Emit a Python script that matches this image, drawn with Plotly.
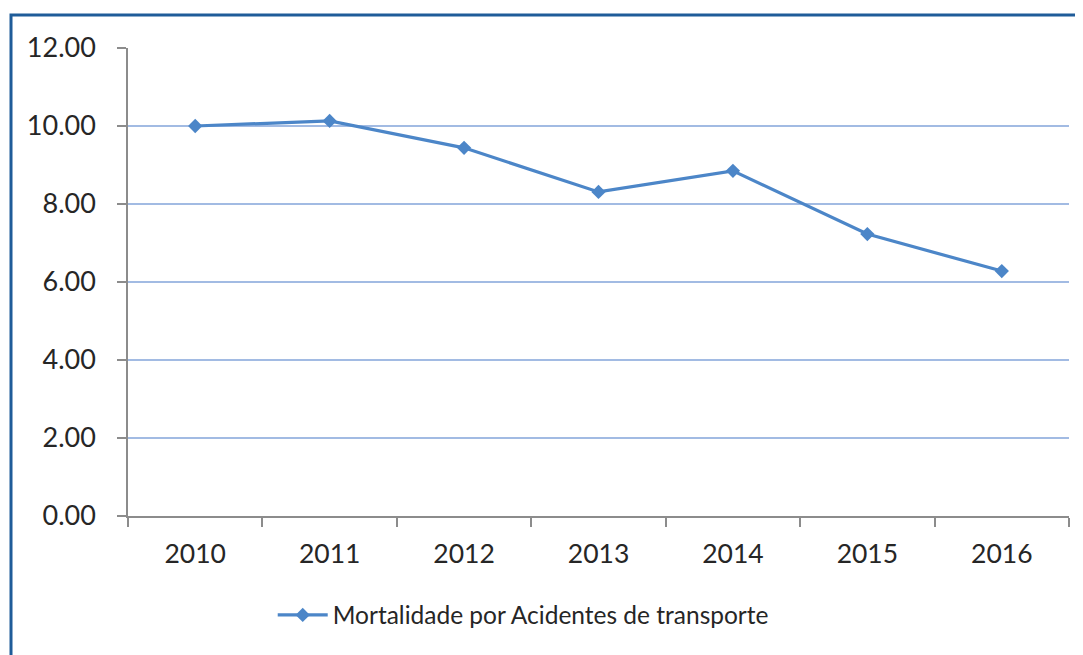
import plotly.graph_objects as go

years = ["2010", "2011", "2012", "2013", "2014", "2015", "2016"]
mortalidade = [10.00, 10.13, 9.44, 8.31, 8.85, 7.23, 6.28]
series_name = "Mortalidade por Acidentes de transporte"
y_ticks = [0, 2, 4, 6, 8, 10, 12]
y_labels = ["0.00", "2.00", "4.00", "6.00", "8.00", "10.00", "12.00"]

W, H = 1083, 655
OFF = 8  # page offset of the figure in the browser
L, R, T, B = 128 - OFF, 1069 - OFF, 48 - OFF, 516 - OFF

fig = go.Figure()
fig.add_trace(go.Scatter(
    x=years, y=mortalidade, mode="lines+markers", name=series_name,
    line=dict(color="#4C86C8", width=3.2),
    marker=dict(symbol="diamond", size=11, color="#4C86C8"),
))

def px_to_paper_x(px):
    return (px - OFF - L) / (R - L)

def px_to_paper_y(py):
    return (B - (py - OFF)) / (B - T)

fig.add_shape(type="rect", xref="paper", yref="paper",
              x0=px_to_paper_x(11), x1=px_to_paper_x(1110),
              y0=px_to_paper_y(720), y1=px_to_paper_y(15),
              line=dict(color="#1F5C99", width=3), fillcolor="rgba(0,0,0,0)",
              layer="above")

fig.update_layout(
    width=W, height=H,
    margin=dict(l=L, r=W - R, t=T, b=H - B),
    paper_bgcolor="white", plot_bgcolor="white",
    font=dict(family="Lato, Open Sans, sans-serif", size=27, color="#262626"),
    showlegend=True,
    legend=dict(orientation="h", x=0.42, xanchor="center", y=px_to_paper_y(615), yanchor="middle",
                font=dict(size=24.5), itemwidth=50, bgcolor="rgba(0,0,0,0)"),
    xaxis=dict(type="category", range=[-0.5, 6.5], showline=True, linecolor="#8c8c8c", linewidth=1.5,
               ticks="outside", tickson="boundaries", ticklen=9, tickcolor="#8c8c8c", tickwidth=1.5,
               showgrid=False, ticklabelstandoff=13, fixedrange=True, tickfont=dict(size=26.5)),
    yaxis=dict(range=[0, 12], tickvals=y_ticks, ticktext=y_labels, showline=True, linecolor="#8c8c8c",
               linewidth=1.5, ticks="outside", ticklen=9, tickcolor="#8c8c8c", tickwidth=1.5,
               showgrid=True, gridcolor="#A2BBE3", gridwidth=1.6, zeroline=False,
               ticklabelstandoff=16),
)

fig.write_html("out.html")
